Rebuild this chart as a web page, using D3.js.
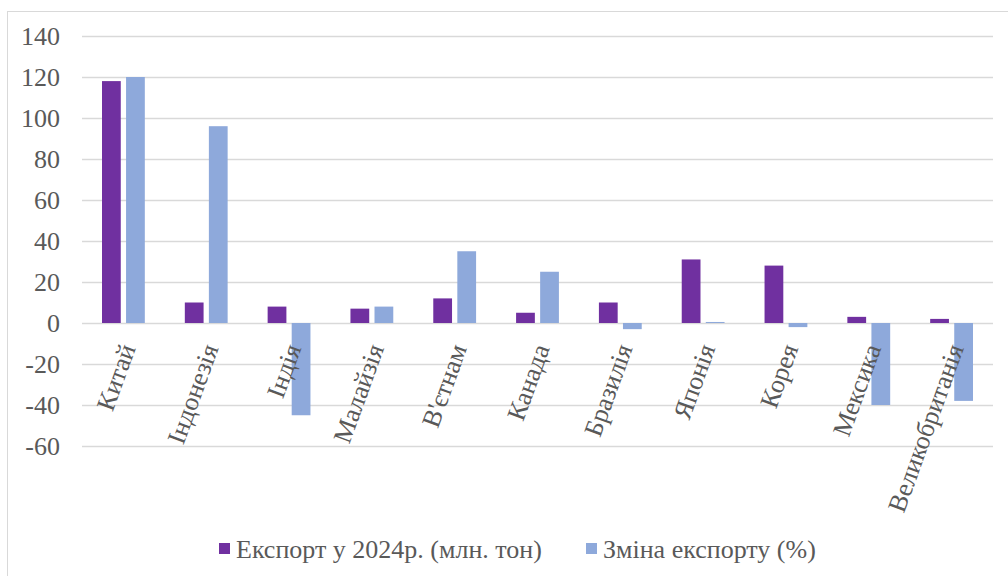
<!DOCTYPE html>
<html>
<head>
<meta charset="utf-8">
<script src="https://cdn.jsdelivr.net/npm/d3@7"></script>
</head>
<body style="margin:0">
<script>
var countries = ['Китай', 'Індонезія', 'Індія', 'Малайзія', "В'єтнам", 'Канада', 'Бразилія', 'Японія', 'Корея', 'Мексика', 'Великобританія'];
var exportVals = [118, 10, 8, 7, 12, 5, 10, 31, 28, 3, 2];
var changeVals = [120, 96, -45, 8, 35, 25, -3, 0.5, -2, -40, -38];
var seriesNames = ['Експорт у 2024р. (млн. тон)', 'Зміна експорту (%)'];
var seriesColors = ['#7030A0', '#8EA9DB'];
var yTicks = [140, 120, 100, 80, 60, 40, 20, 0, -20, -40, -60];

var svgW = 1008, svgH = 576;
var plotLeft = 82, plotRight = 993, plotTop = 36, plotBottom = 446;
var fontSize = 26;
var textColor = '#595959';

var svg = d3.select('body').append('svg')
  .attr('width', svgW)
  .attr('height', svgH)
  .attr('font-family', 'Liberation Serif')
  .attr('font-size', fontSize)
  .attr('fill', textColor);

// chart frame
svg.append('rect')
  .attr('x', 7.5).attr('y', 11.5)
  .attr('width', 1010).attr('height', 600)
  .attr('fill', 'none')
  .attr('stroke', '#d9d9d9');

var y = d3.scaleLinear().domain([-60, 140]).range([plotBottom, plotTop]);
var x0 = d3.scaleBand().domain(countries).range([plotLeft, plotRight]);
var x1 = d3.scaleBand().domain([0, 1])
  .range([20, x0.bandwidth() - 20])
  .paddingInner(0.22);

// gridlines
svg.append('g')
  .selectAll('line')
  .data(yTicks)
  .enter()
  .append('line')
  .attr('x1', plotLeft).attr('x2', plotRight)
  .attr('y1', function(d){ return Math.round(y(d)) + 0.5 })
  .attr('y2', function(d){ return Math.round(y(d)) + 0.5 })
  .attr('stroke', '#d9d9d9')
  .attr('stroke-width', 1.5);

// y axis labels
svg.append('g')
  .selectAll('text')
  .data(yTicks)
  .enter()
  .append('text')
  .attr('x', 60)
  .attr('y', function(d){ return y(d) })
  .attr('dy', '0.35em')
  .attr('text-anchor', 'end')
  .attr('font-family', 'Liberation Serif')
  .text(function(d){ return d });

// bars
var rows = countries.map(function(c, i){ return { c: c, v: [exportVals[i], changeVals[i]] } });

var groups = svg.append('g')
  .selectAll('g')
  .data(rows)
  .enter()
  .append('g')
  .attr('transform', function(d){ return 'translate(' + x0(d.c) + ',0)' });

groups.selectAll('rect')
  .data(function(d){ return d.v.map(function(v, s){ return { s: s, v: v } }) })
  .enter()
  .append('rect')
  .attr('x', function(d){ return x1(d.s) })
  .attr('width', x1.bandwidth())
  .attr('y', function(d){ return y(Math.max(0, d.v)) })
  .attr('height', function(d){ return Math.abs(y(d.v) - y(0)) })
  .attr('fill', function(d){ return seriesColors[d.s] });

// category labels
svg.append('g')
  .selectAll('text')
  .data(countries)
  .enter()
  .append('text')
  .attr('transform', function(d){
    return 'translate(' + (x0(d) + x0.bandwidth() / 2 + 4) + ',345) rotate(-70)'
  })
  .attr('dy', '0.35em')
  .attr('text-anchor', 'end')
  .attr('font-family', 'Liberation Serif')
  .text(function(d){ return d });

// legend
var legendX = [219, 586];
var legend = svg.append('g')
  .selectAll('g')
  .data(seriesNames)
  .enter()
  .append('g')
  .attr('transform', function(d, i){ return 'translate(' + legendX[i] + ',543)' });

legend.append('rect')
  .attr('width', 11).attr('height', 11)
  .attr('fill', function(d, i){ return seriesColors[i] });

legend.append('text')
  .attr('x', 17)
  .attr('y', 6)
  .attr('dy', '0.35em')
  .attr('font-family', 'Liberation Serif')
  .text(function(d){ return d });
</script>
</body>
</html>
